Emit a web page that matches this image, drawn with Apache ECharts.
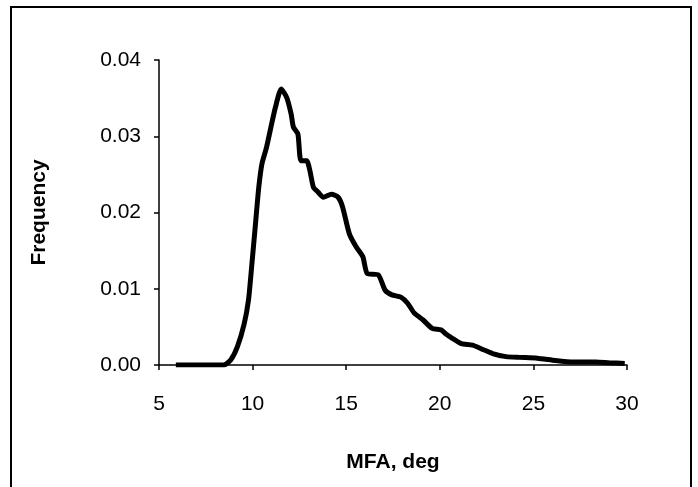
<!DOCTYPE html>
<html><head><meta charset="utf-8">
<script src="https://cdn.jsdelivr.net/npm/echarts@6/dist/echarts.min.js"></script>
<style>html,body{margin:0;padding:0;background:#fff}#c{width:698px;height:487px}</style>
</head><body><div id="c"></div>
<script>
const mfa = [5.9,6.5,7.0,7.5,8.0,8.47,8.83,9.19,9.55,9.78,9.95,10.14,10.33,10.5,10.74,10.98,11.22,11.53,11.82,12.06,12.18,12.42,12.58,12.89,13.06,13.25,13.49,13.78,14.21,14.57,14.81,15.17,15.53,15.89,16.12,16.72,17.08,17.44,17.92,18.28,18.64,19.11,19.59,20.07,20.31,20.67,21.15,21.75,22.34,22.82,23.54,24.26,25.21,26.17,27.13,28.33,29.04,29.88];
const freq = [0,0,0,0,0,0,0.00065,0.0024,0.0054,0.0085,0.0129,0.0181,0.0233,0.0264,0.0285,0.0312,0.0338,0.0362,0.0351,0.0329,0.0312,0.0303,0.0268,0.0268,0.0255,0.0233,0.0227,0.0220,0.0224,0.0220,0.0207,0.0172,0.0155,0.0142,0.0120,0.0118,0.0098,0.0092,0.0089,0.0081,0.0068,0.0059,0.0048,0.0046,0.0041,0.0035,0.0028,0.0026,0.0020,0.0015,0.0011,0.0010,0.0009,0.0006,0.0004,0.0004,0.0003,0.0002];
const xTicks = [5,10,15,20,25,30];
const yTicks = [0,0.01,0.02,0.03,0.04];
const xTitle = 'MFA, deg';
const yTitle = 'Frequency';

const chart = echarts.init(document.getElementById('c'));
const font = 'Liberation Sans, Arial, sans-serif';
chart.setOption({
  animation:false,
  backgroundColor:'#fff',
  grid:{left:159,top:60,right:71,bottom:122},
  xAxis:{type:'value',min:xTicks[0],max:xTicks[xTicks.length-1],interval:5,
    axisLine:{onZero:false,lineStyle:{color:'#000',width:1.5}},
    axisTick:{show:true,inside:false,length:5,lineStyle:{color:'#000',width:1.5}},
    axisLabel:{color:'#000',fontSize:21,fontFamily:font,margin:29},
    splitLine:{show:false},
    name:xTitle,nameLocation:'middle',nameGap:87,
    nameTextStyle:{color:'#000',fontSize:21,fontWeight:'bold',fontFamily:font}},
  yAxis:{type:'value',min:yTicks[0],max:yTicks[yTicks.length-1],interval:0.01,
    axisLine:{show:true,lineStyle:{color:'#000',width:1.5}},
    axisTick:{show:true,inside:false,length:5,lineStyle:{color:'#000',width:1.5}},
    axisLabel:{color:'#000',fontSize:21,fontFamily:font,margin:18,formatter:v=>v.toFixed(2)},
    splitLine:{show:false},
    name:yTitle,nameLocation:'middle',nameGap:109,nameRotate:90,
    nameTextStyle:{color:'#000',fontSize:21,fontWeight:'bold',fontFamily:font}},
  series:[{type:'line',data:mfa.map((x,i)=>[x,freq[i]]),showSymbol:false,smooth:0.2,
    lineStyle:{color:'#000',width:5}}],
  graphic:[{type:'rect',shape:{x:11,y:7,width:680,height:500},
    style:{fill:'none',stroke:'#000',lineWidth:2},silent:true}]
});
</script></body></html>
